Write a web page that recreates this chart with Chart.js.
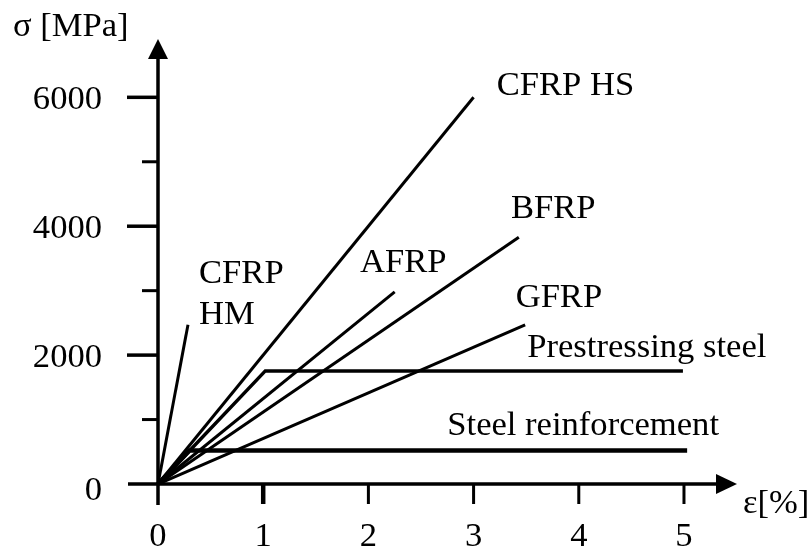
<!DOCTYPE html>
<html><head><meta charset="utf-8">
<script src="https://cdn.jsdelivr.net/npm/chart.js@4.4.0/dist/chart.umd.min.js"></script>
<style>html,body{margin:0;padding:0;background:#fff;overflow:hidden}canvas{display:block}</style>
</head><body>
<canvas id="c" width="812" height="550"></canvas>
<script>
// Stress-strain curves: strain [%] and stress [MPa]
const strainCFRPHM = [0, 0.285];
const stressCFRPHM = [0, 2470];
const strainCFRPHS = [0, 3.0];
const stressCFRPHS = [0, 6000];
const strainAFRP = [0, 2.25];
const stressAFRP = [0, 2980];
const strainBFRP = [0, 3.43];
const stressBFRP = [0, 3830];
const strainGFRP = [0, 3.49];
const stressGFRP = [0, 2470];
const strainPrestress = [0, 1.02, 4.99];
const stressPrestress = [0, 1755, 1755];
const strainSteel = [0, 0.30, 5.03];
const stressSteel = [0, 520, 520];

const xTickValues = [0, 1, 2, 3, 4, 5];
const xTickLabels = ["0", "1", "2", "3", "4", "5"];
const yMajorTicks = [0, 2000, 4000, 6000];
const yMajorLabels = ["0", "2000", "4000", "6000"];
const yMinorTicks = [1000, 3000, 5000];

function pts(xs, ys) { return xs.map((x, i) => ({ x: x, y: ys[i] })); }

const FONT = '34.6px "Liberation Serif", "Times New Roman", serif';
const INK = '#000';

const seriesLabels = [
  { text: "CFRP HS", x: 3.22, y: 6040 },
  { text: "BFRP", x: 3.355, y: 4130 },
  { text: "GFRP", x: 3.40, y: 2748 },
  { text: "AFRP", x: 1.92, y: 3292 },
  { text: "CFRP", x: 0.39, y: 3121 },
  { text: "HM", x: 0.39, y: 2484 },
  { text: "Prestressing steel", x: 3.51, y: 1972 },
  { text: "Steel reinforcement", x: 2.75, y: 761 }
];

const axesPlugin = {
  id: 'axesPlugin',
  beforeDatasetsDraw(chart) {
    const ctx = chart.ctx;
    const xs = chart.scales.x, ys = chart.scales.y;
    const x0 = xs.getPixelForValue(0), y0 = ys.getPixelForValue(0);
    ctx.save();
    ctx.strokeStyle = INK; ctx.fillStyle = INK;
    ctx.lineCap = 'butt';
    // x axis
    ctx.lineWidth = 3.5;
    ctx.beginPath(); ctx.moveTo(x0 - 30, y0); ctx.lineTo(720, y0); ctx.stroke();
    ctx.beginPath(); ctx.moveTo(737, y0); ctx.lineTo(716, y0 - 10); ctx.lineTo(716, y0 + 10); ctx.closePath(); ctx.fill();
    // y axis
    ctx.beginPath(); ctx.moveTo(x0, y0 + 21); ctx.lineTo(x0, 55); ctx.stroke();
    ctx.beginPath(); ctx.moveTo(x0, 39); ctx.lineTo(x0 - 10, 59); ctx.lineTo(x0 + 10, 59); ctx.closePath(); ctx.fill();
    // y ticks
    ctx.lineWidth = 3.5;
    yMajorTicks.forEach(v => {
      if (v === 0) return;
      const py = ys.getPixelForValue(v);
      ctx.beginPath(); ctx.moveTo(x0 - 31, py); ctx.lineTo(x0, py); ctx.stroke();
    });
    ctx.lineWidth = 3;
    yMinorTicks.forEach(v => {
      const py = ys.getPixelForValue(v);
      ctx.beginPath(); ctx.moveTo(x0 - 16, py); ctx.lineTo(x0, py); ctx.stroke();
    });
    // x ticks
    xTickValues.forEach(v => {
      if (v === 0) return;
      const px = xs.getPixelForValue(v);
      ctx.lineWidth = v === 1 ? 4.5 : 3;
      ctx.beginPath(); ctx.moveTo(px, y0); ctx.lineTo(px, y0 + 20); ctx.stroke();
    });
    ctx.restore();
  },
  afterDraw(chart) {
    const ctx = chart.ctx;
    const xs = chart.scales.x, ys = chart.scales.y;
    const x0 = xs.getPixelForValue(0);
    ctx.save();
    ctx.fillStyle = INK;
    ctx.font = FONT;
    ctx.textBaseline = 'alphabetic';
    // y tick labels
    ctx.textAlign = 'right';
    yMajorTicks.forEach((v, i) => {
      const dy = v === 0 ? 16 : 12;
      ctx.fillText(yMajorLabels[i], x0 - 56, ys.getPixelForValue(v) + dy);
    });
    // x tick labels
    ctx.textAlign = 'center';
    xTickValues.forEach((v, i) => {
      ctx.fillText(xTickLabels[i], xs.getPixelForValue(v), 546);
    });
    // axis titles
    ctx.textAlign = 'left';
    ctx.fillText('σ [MPa]', 13, 36);
    ctx.fillText('ε[%]', 743, 513);
    // series labels
    seriesLabels.forEach(l => {
      ctx.fillText(l.text, xs.getPixelForValue(l.x), ys.getPixelForValue(l.y));
    });
    ctx.restore();
  }
};

function ds(label, xs, ys, w) {
  return { label: label, data: pts(xs, ys), showLine: true, borderColor: INK, borderWidth: w,
           pointRadius: 0, fill: false, tension: 0, borderJoinStyle: 'miter' };
}

new Chart(document.getElementById('c'), {
  type: 'scatter',
  data: {
    datasets: [
      ds('CFRP HM', strainCFRPHM, stressCFRPHM, 3),
      ds('CFRP HS', strainCFRPHS, stressCFRPHS, 3),
      ds('AFRP', strainAFRP, stressAFRP, 3),
      ds('BFRP', strainBFRP, stressBFRP, 3),
      ds('GFRP', strainGFRP, stressGFRP, 3),
      ds('Prestressing steel', strainPrestress, stressPrestress, 3.5),
      ds('Steel reinforcement', strainSteel, stressSteel, 4.5)
    ]
  },
  options: {
    responsive: false,
    animation: false,
    devicePixelRatio: 1,
    layout: { padding: 0 },
    plugins: { legend: { display: false }, tooltip: { enabled: false } },
    scales: {
      x: { type: 'linear', display: false, min: -1.502, max: 6.217 },
      y: { type: 'linear', display: false, min: -1024, max: 7510 }
    }
  },
  plugins: [axesPlugin]
});
</script>
</body></html>
